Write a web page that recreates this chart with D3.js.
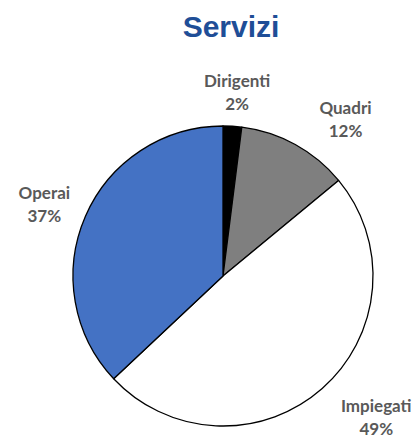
<!DOCTYPE html>
<html>
<head>
<meta charset="utf-8">
<script src="https://cdn.jsdelivr.net/npm/d3@7"></script>
<style>
  body { margin: 0; background: #fff; }
  svg { display: block; }
</style>
</head>
<body>
<div id="chart"></div>
<script>
// Pie chart "Servizi" - share of workers by category

const categories = ["Dirigenti", "Quadri", "Impiegati", "Operai"];
const values = [2, 12, 49, 37];
const colors = ["#000000", "#7f7f7f", "#ffffff", "#4472c4"];

const width = 416, height = 441;
const cx = 223, cy = 276, radius = 150;

// small hand nudges for the data labels, like Excel "best fit"
const labelNudge = {
    "Dirigenti": [2, 0],
    "Quadri": [35, 5],
    "Impiegati": [26, 14],
    "Operai": [-12, 5]
};

const svg = d3.select("#chart")
    .append("svg")
    .attr("width", width)
    .attr("height", height);

// title
svg.append("text")
    .attr("x", 231)
    .attr("y", 37)
    .attr("text-anchor", "middle")
    .style("font-family", "Liberation Sans, Arial, sans-serif")
    .style("font-weight", "bold")
    .style("font-size", "30px")
    .style("fill", "#1f4e97")
    .text("Servizi");

let data = categories.map((c, i) => ({name: c, value: values[i], color: colors[i]}));

let pie = d3.pie()
    .sort(null)
    .value(d => d.value);

let arc = d3.arc()
    .innerRadius(0)
    .outerRadius(radius);

let g = svg.append("g")
    .attr("transform", "translate(" + cx + "," + cy + ")");

let arcs = pie(data);

g.selectAll("path")
    .data(arcs)
    .enter().append("path")
    .attr("d", arc)
    .attr("fill", d => d.data.color)
    .attr("stroke", "#000")
    .attr("stroke-width", 1.3)
    .attr("stroke-linejoin", "round");

// data labels outside the pie
let total = d3.sum(values);
let labelR = radius + 10;

let labels = g.selectAll(".lbl")
    .data(arcs)
    .enter().append("text")
    .attr("class", "lbl")
    .attr("text-anchor", "middle")
    .style("font-family", "Lato, 'Open Sans', sans-serif")
    .style("font-weight", "bold")
    .style("font-size", "17px")
    .style("fill", "#595959")
    .attr("transform", d => {
        let a = (d.startAngle + d.endAngle) / 2;
        let w = d.data.name.length * 3.6;
        let h = 18;
        let n = labelNudge[d.data.name];
        let x = (labelR + w) * Math.sin(a) + n[0];
        let y = -(labelR + h) * Math.cos(a) + n[1];
        return "translate(" + x + "," + y + ")";
    });

labels.append("tspan")
    .attr("x", 0)
    .attr("y", -11.5)
    .text(d => d.data.name);

labels.append("tspan")
    .attr("x", 0)
    .attr("y", 11.5)
    .text(d => Math.round(d.data.value / total * 100) + "%");
</script>
</body>
</html>
